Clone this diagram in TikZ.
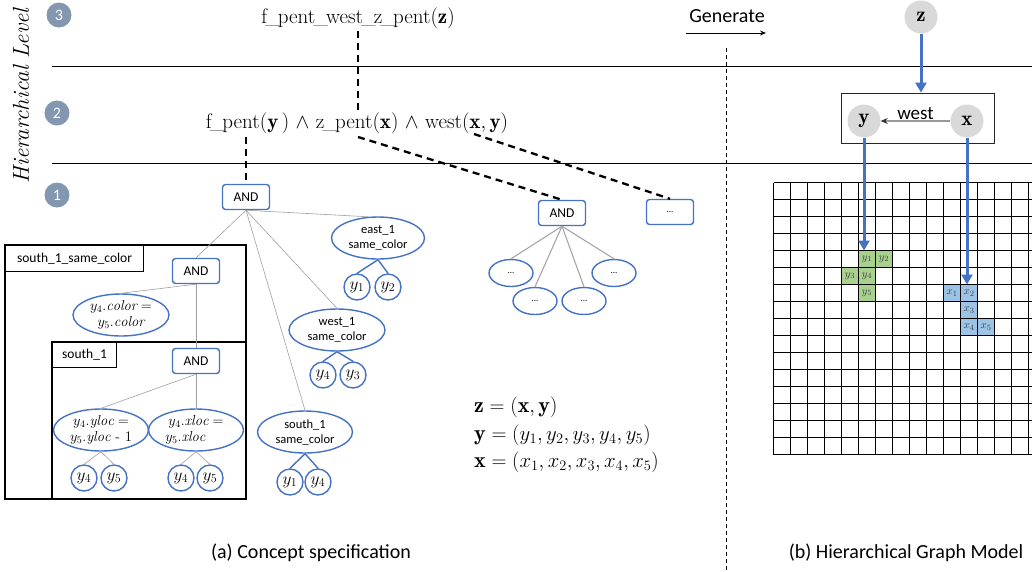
\documentclass[tikz,border=0pt]{standalone}
\usepackage{fontspec}
\setsansfont{Carlito}
\usetikzlibrary{shapes.geometric,arrows.meta}
\definecolor{nblue}{HTML}{4472C4}
\definecolor{lvlc}{HTML}{8497B0}
\definecolor{gfill}{HTML}{A9D18E}
\definecolor{bfill}{HTML}{9DC3E6}
\definecolor{gnodec}{HTML}{D9D9D9}
\newcommand{\myus}{\kern-0.09em\_\kern-0.09em}
\tikzset{
  andbox/.style={draw=nblue, line width=1.4pt, rounded corners=3pt, minimum width=47pt, minimum height=25pt, inner sep=0pt, fill=white, font=\sffamily\fontsize{13.5}{15}\selectfont},
  ell/.style={ellipse, draw=nblue, line width=1.4pt, minimum width=95pt, minimum height=42pt, inner sep=0pt, align=center, font=\sffamily\fontsize{12.5}{15}\selectfont},
  mell/.style={ell, font=\fontsize{14.5}{16}\selectfont},
  dell/.style={ellipse, draw=nblue, line width=1.4pt, minimum width=44pt, minimum height=27pt, inner sep=0pt, font=\sffamily\fontsize{9}{9}\selectfont},
  var/.style={circle, draw=nblue, line width=1.4pt, minimum size=26pt, inner sep=0pt, font=\fontsize{17}{17}\selectfont},
  tl/.style={gray!75, line width=0.6pt},
  tl2/.style={gray!70, line width=1.1pt},
  bl/.style={nblue, line width=1.4pt},
  lvl/.style={circle, fill=lvlc, minimum size=25pt, inner sep=0pt, text=white, font=\sffamily\fontsize{16}{16}\selectfont},
  gnode/.style={circle, fill=gnodec, minimum size=33pt, inner sep=0pt, font=\fontsize{21}{21}\selectfont},
  dl/.style={line width=2.3pt, dash pattern=on 7pt off 5pt},
  sepline/.style={line width=0.9pt},
  boxline/.style={line width=1.1pt},
  lblbox/.style={draw, line width=1.1pt, inner sep=0pt, font=\sffamily\fontsize{13.5}{15}\selectfont, fill=white},
  serift/.style={font=\fontsize{21}{23}\selectfont, inner sep=1pt},
  eqt/.style={font=\fontsize{22}{24}\selectfont, anchor=west, inner sep=0pt},
  sanst/.style={font=\sffamily\fontsize{20}{22}\selectfont, inner sep=0pt},
  barrow/.style={nblue, line width=3pt, -{Triangle[length=10pt,width=11pt]}},
  gridline/.style={line width=1.7pt, black},
  cell/.style={font=\fontsize{11}{11}\selectfont, text=black!75, inner sep=0pt}
}
\begin{document}
\begin{tikzpicture}[x=1pt,y=-1pt]
\path[use as bounding box] (0,0) rectangle (1032,571);

% level separators
\draw[sepline] (52,66) -- (1032,66);
\draw[sepline] (52,163) -- (1032,163);

% level markers
\node[lvl] (L3) at (59,15) {3};
\node[lvl] (L2) at (57,113) {2};
\node[lvl] (L1) at (57,195) {1};
\node[rotate=90, font=\itshape\fontsize{23}{23}\selectfont] (hl) at (21,96) {Hierarchical Level};

% formulas
\node[serift] (t3) at (358,18) {f\myus pent\myus west\myus z\myus pent($\mathbf{z}$)};
\node[serift] (t2) at (357,123) {f\myus pent($\mathbf{y}$\,) $\wedge$ z\myus pent($\mathbf{x}$) $\wedge$ west($\mathbf{x},\mathbf{y}$)};
\coordinate (d3a) at (358,31);
\coordinate (d3b) at (358,110);
\draw[dl] (d3a) -- (d3b);
\coordinate (c2a) at (246,137);
\coordinate (c2b) at (358,137);
\coordinate (c2c) at (474,134);

% level 1 nodes
\node[andbox] (and1) at (246,197) {AND};
\node[andbox] (and4) at (562,213) {AND};
\node[andbox] (dots) at (670,212) {\fontsize{9}{9}\selectfont...};
\draw[dl] (c2a) -- (and1.north);
\draw[dl] (c2b) -- (and4.north);
\draw[dl] (c2c) -- (dots.north);

% boxes
\draw[boxline] (5,245) rectangle (246,499);
\node[lblbox, anchor=north west, minimum width=138pt, minimum height=26pt] (lb1) at (5,245) {south\_1\_same\_color};
\draw[boxline] (52,342) rectangle (246,499);
\node[lblbox, anchor=north west, minimum width=64pt, minimum height=25pt] (lb2) at (52,342) {south\_1};

\node[andbox] (and2) at (196,271) {AND};
\node[andbox] (and3) at (196,361) {AND};
\node[mell, minimum width=96pt] (ellC) at (121,315) {$y_4.\mathit{color} =$\\$y_5.\mathit{color}$};
\node[mell] (ellY) at (101,430) {$y_4.\mathit{yloc} =$\\$y_5.\mathit{yloc}$ - 1};
\node[mell] (ellX) at (196,430) {$y_4.\mathit{xloc} =$\\$y_5.\mathit{xloc}$\phantom{ - 1}};
\node[var] (a1) at (84,478) {$y_4$};
\node[var] (a2) at (114,478) {$y_5$};
\node[var] (a3) at (181,478) {$y_4$};
\node[var] (a4) at (210,478) {$y_5$};

\node[ell] (ellS) at (305,432) {south\_1\\same\_color};
\node[var] (s1) at (290,482) {$y_1$};
\node[var] (s2) at (318,482) {$y_4$};
\node[ell, minimum width=96pt] (ellW) at (337,330) {west\_1\\same\_color};
\node[var] (w1) at (323,375) {$y_4$};
\node[var] (w2) at (353,375) {$y_3$};
\node[ell, minimum width=93pt] (ellE) at (378,238) {east\_1\\same\_color};
\node[var] (e1) at (357,287) {$y_1$};
\node[var] (e2) at (388,287) {$y_2$};

% tree edges
\draw[tl] (and1.south) -- (and2.north);
\draw[tl] (and1.south) -- (ellS.north);
\draw[tl] (and1.south) -- (ellW.north);
\draw[tl] (and1.south) -- (ellE.115);
\draw[tl] (and2.south) -- (ellC.north);
\draw[tl] (and2.south) -- (and3.north);
\draw[tl] (and3.south) -- (ellY.north);
\draw[tl] (and3.south) -- (ellX.north);
\draw[tl] (ellY.south) -- (a1.north);
\draw[tl] (ellY.south) -- (a2.north);
\draw[tl] (ellX.south) -- (a3.north);
\draw[tl] (ellX.south) -- (a4.north);
\draw[bl] (ellS.south) -- (s1.north);
\draw[bl] (ellS.south) -- (s2.north);
\draw[bl] (ellW.south) -- (w1.north);
\draw[bl] (ellW.south) -- (w2.north);
\draw[bl] (ellE.south) -- (e1.north);
\draw[bl] (ellE.south) -- (e2.north);

% right AND subtree
\node[dell] (de1) at (511,273) {...};
\node[dell] (de2) at (535,301) {...};
\node[dell] (de3) at (584,301) {...};
\node[dell] (de4) at (614,273) {...};
\draw[tl2] (and4.south) -- (de1.north);
\draw[tl2] (and4.south) -- (de2.north);
\draw[tl2] (and4.south) -- (de3.north);
\draw[tl2] (and4.south) -- (de4.north);

% equations
\node[eqt] (eq1) at (474,407) {$\mathbf{z} = (\mathbf{x},\mathbf{y})$};
\node[eqt] (eq2) at (474,435) {$\mathbf{y} = (y_1, y_2, y_3, y_4, y_5)$};
\node[eqt] (eq3) at (474,462) {$\mathbf{x} = (x_1, x_2, x_3, x_4, x_5)$};

% generate
\node[sanst] (gen) at (727,16) {Generate};
\coordinate (g1) at (686,33);
\coordinate (g2) at (766,33);
\draw[line width=0.9pt, -{Stealth[length=6pt,width=5pt]}] (g1) -- (g2);
\coordinate (v1) at (726,48);
\coordinate (v2) at (726,571);
\draw[line width=0.8pt, dash pattern=on 4pt off 3pt] (v1) -- (v2);

% right graph
\node[gnode] (z) at (921,17) {$\mathbf{z}$};
\node[draw=black!85, line width=0.9pt, minimum width=153pt, minimum height=50pt, inner sep=0pt] (gbox) at (917.5,118) {};
\node[gnode] (y) at (864,121) {$\mathbf{y}$};
\node[gnode] (x) at (967,121) {$\mathbf{x}$};
\draw[gray!80, line width=1.1pt, -{Stealth[length=7pt,width=6pt,black!80]}] (x.west) -- (y.east)
  node[midway, anchor=south, inner sep=1pt, text=black, font=\sffamily\fontsize{19}{19}\selectfont] (wl) {west};
\draw[barrow] (z.south) -- (z.south |- gbox.north);

% grid
\begin{scope}
\clip (0,0) rectangle (1032,571);
\foreach \c/\r/\l in {5/4/y_1, 6/4/y_2, 4/5/y_3, 5/5/y_4, 5/6/y_5} {
  \fill[gfill] ({773.5+\c*17},{182.5+\r*17}) rectangle ++(17,17);
  \node[cell] (gy\c\r) at ({773.5+(\c+0.5)*17},{182.5+(\r+0.5)*17}) {$\l$};
}
\foreach \c/\r/\l in {10/6/x_1, 11/6/x_2, 11/7/x_3, 11/8/x_4, 12/8/x_5} {
  \fill[bfill] ({773.5+\c*17},{182.5+\r*17}) rectangle ++(17,17);
  \node[cell] (gx\c\r) at ({773.5+(\c+0.5)*17},{182.5+(\r+0.5)*17}) {$\l$};
}
\foreach \i in {0,...,16} {
  \draw[gridline] (773.5,{182.5+\i*17}) -- (1050,{182.5+\i*17});
  \draw[gridline] ({773.5+\i*17},182.5) -- ({773.5+\i*17},454.5);
}
\end{scope}
\coordinate (ty) at ({773.5+5.5*17},{182.5+4*17});
\coordinate (tx) at ({773.5+11.5*17},{182.5+6*17});
\draw[barrow] (y.south) -- (y.south |- ty);
\draw[barrow] (x.south) -- (x.south |- tx);

% captions
\node[sanst] (capa) at (311,553) {(a) Concept specification};
\node[sanst] (capb) at (906,553) {(b) Hierarchical Graph Model};
\end{tikzpicture}
\end{document}
